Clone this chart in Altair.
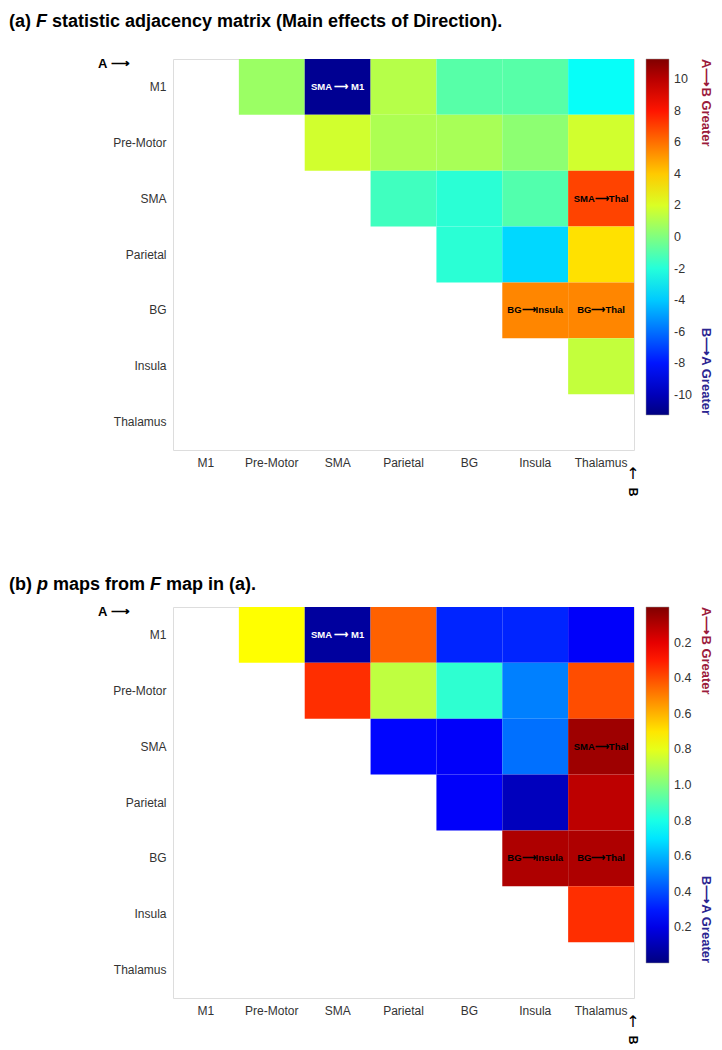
import altair as alt
import pandas as pd

# ---------------- data ----------------
regions = ["M1", "Pre-Motor", "SMA", "Parietal", "BG", "Insula", "Thalamus"]

# upper-triangle cells: row region (A) -> column region (B)
cell_from = ["M1"] * 6 + ["Pre-Motor"] * 5 + ["SMA"] * 4 + ["Parietal"] * 3 + ["BG"] * 2 + ["Insula"]
cell_to = ["Pre-Motor", "SMA", "Parietal", "BG", "Insula", "Thalamus",
           "SMA", "Parietal", "BG", "Insula", "Thalamus",
           "Parietal", "BG", "Insula", "Thalamus",
           "BG", "Insula", "Thalamus",
           "Insula", "Thalamus",
           "Thalamus"]

# (a) F statistic
f_values = [0.6, -10.9, 1.2, -0.9, -0.9, -2.7,
            1.8, 1.0, 0.9, 0.3, 1.8,
            -1.4, -1.9, -1.0, 7.0,
            -1.9, -3.7, 3.5,
            5.5, 5.5,
            1.5]

# (b) p map, position on the signed colour bar (+ : A->B greater, - : B->A greater)
p_map_values = [0.25, -0.94, 0.56, -0.68, -0.68, -0.76,
                0.66, 0.125, -0.16, -0.5, 0.6,
                -0.74, -0.76, -0.53, 0.94,
                -0.76, -0.88, 0.88,
                0.91, 0.91,
                0.66]

# significant connections labels
label_from = ["M1", "SMA", "BG", "BG"]
label_to = ["SMA", "Thalamus", "Insula", "Thalamus"]
label_text = ["SMA \u27F6 M1", "SMA\u27F6Thal", "BG\u27F6Insula", "BG\u27F6Thal"]
label_color = ["white", "black", "black", "black"]

f_ticks = [10, 8, 6, 4, 2, 0, -2, -4, -6, -8, -10]
p_ticks = [0.8, 0.6, 0.4, 0.2, 0.0, -0.2, -0.4, -0.6, -0.8]

jet = ["#000080", "#0000ff", "#00ffff", "#ffff00", "#ff0000", "#800000"]
jet_t = [0, 0.125, 0.375, 0.625, 0.875, 1.0]

# ---------------- layout constants ----------------
W, H = 461, 391
LABEL_FONT = "Liberation Sans"
TITLE_FONT = "Liberation Sans"


def piece(text, x, y, italic=False, size=18):
    return alt.Chart(pd.DataFrame({"t": [text]})).mark_text(
        align="left", baseline="top", font=TITLE_FONT, fontSize=size,
        fontWeight="bold", fontStyle="italic" if italic else "normal", color="black"
    ).encode(x=alt.value(x), y=alt.value(y), text="t:N")


def panel(values, lo, hi, ticks, label_expr, title_layers):
    df = pd.DataFrame({"A": cell_from, "B": cell_to, "v": values})
    dom = [lo + t * (hi - lo) for t in jet_t]
    xs = alt.Scale(domain=regions, paddingInner=0, paddingOuter=0)
    ys = alt.Scale(domain=regions, paddingInner=0, paddingOuter=0)
    x = alt.X("B:N", sort=regions, scale=xs,
              axis=alt.Axis(title=None, labelAngle=0, ticks=False, domain=False,
                            labelPadding=7, labelFont=LABEL_FONT, labelFontSize=12,
                            labelColor="#333"))
    y = alt.Y("A:N", sort=regions, scale=ys,
              axis=alt.Axis(title=None, ticks=False, domain=False, labelPadding=7,
                            labelFont=LABEL_FONT, labelFontSize=12, labelColor="#333"))
    heat = alt.Chart(df).mark_rect().encode(
        x=x, y=y,
        color=alt.Color("v:Q",
                        scale=alt.Scale(domain=dom, range=jet, interpolate="rgb"),
                        legend=alt.Legend(title=None, orient="none", legendX=473, legendY=0,
                                          direction="vertical", gradientLength=356,
                                          gradientThickness=23, values=ticks,
                                          labelExpr=label_expr, labelFont=LABEL_FONT,
                                          labelFontSize=12.5, labelColor="#333",
                                          labelOffset=5, padding=0,
                                          gradientStrokeColor="#999",
                                          gradientStrokeWidth=0.5)),
    )
    ldf = pd.DataFrame({"A": label_from, "B": label_to, "t": label_text, "c": label_color})
    label_layers = []
    for col in ["white", "black"]:
        label_layers.append(
            alt.Chart(ldf).transform_filter(alt.datum.c == col).mark_text(
                font=LABEL_FONT, fontSize=9.5, fontWeight="bold", color=col
            ).encode(
                x=alt.X("B:N", sort=regions, scale=xs),
                y=alt.Y("A:N", sort=regions, scale=ys),
                text="t:N",
            )
        )
    a_arrow = alt.Chart(pd.DataFrame({"t": ["A \u27F6"]})).mark_text(
        align="left", baseline="middle", font=LABEL_FONT, fontSize=13, fontWeight="bold"
    ).encode(x=alt.value(-75), y=alt.value(5), text="t:N")
    b_arrow = alt.Chart(pd.DataFrame({"t": ["\u2191"]})).mark_text(
        align="center", baseline="middle", font="DejaVu Sans", fontSize=16
    ).encode(x=alt.value(460), y=alt.value(H + 24), text="t:N")
    b_letter = alt.Chart(pd.DataFrame({"t": ["B"]})).mark_text(
        align="center", baseline="middle", font=LABEL_FONT, fontSize=12, fontWeight="bold", angle=90
    ).encode(x=alt.value(460), y=alt.value(H + 42), text="t:N")
    top_note = alt.Chart(pd.DataFrame({"t": ["A\u27F6B Greater"]})).mark_text(
        align="left", baseline="middle", font=LABEL_FONT, fontSize=13, fontWeight="bold",
        angle=90, color="#9b1b3c"
    ).encode(x=alt.value(533), y=alt.value(0), text="t:N")
    bot_note = alt.Chart(pd.DataFrame({"t": ["B\u27F6A Greater"]})).mark_text(
        align="right", baseline="middle", font=LABEL_FONT, fontSize=13, fontWeight="bold",
        angle=90, color="#2b2591"
    ).encode(x=alt.value(533), y=alt.value(356), text="t:N")
    return alt.layer(heat, *label_layers, a_arrow, b_arrow, b_letter, top_note, bot_note,
                     *title_layers).properties(width=W, height=H)


X0 = -164
title_a = [piece("(a)", X0, -46),
           piece("F", X0 + 27.0, -46, italic=True),
           piece("statistic adjacency matrix (Main effects of Direction).", X0 + 43.0, -46)]
title_b = [piece("(b)", X0, -31),
           piece("p", X0 + 28.0, -31, italic=True),
           piece("maps from", X0 + 44.0, -31),
           piece("F", X0 + 141.0, -31, italic=True),
           piece("map in (a).", X0 + 157.0, -31)]

pa = panel(f_values, -11.3, 11.3, f_ticks, "'' + datum.value", title_a)
pb = panel(p_map_values, -1.0, 1.0, p_ticks, "format(1 - abs(datum.value), '.1f')", title_b)

chart = alt.vconcat(pa, pb, spacing=157, bounds="flush").resolve_scale(
    color="independent"
).properties(
    padding={"left": 0, "top": 4, "right": 0, "bottom": 0}
).configure_view(
    stroke="#888", strokeWidth=1
).configure(background="white")

chart.save("out.html", embed_options={"renderer": "svg", "actions": False})
